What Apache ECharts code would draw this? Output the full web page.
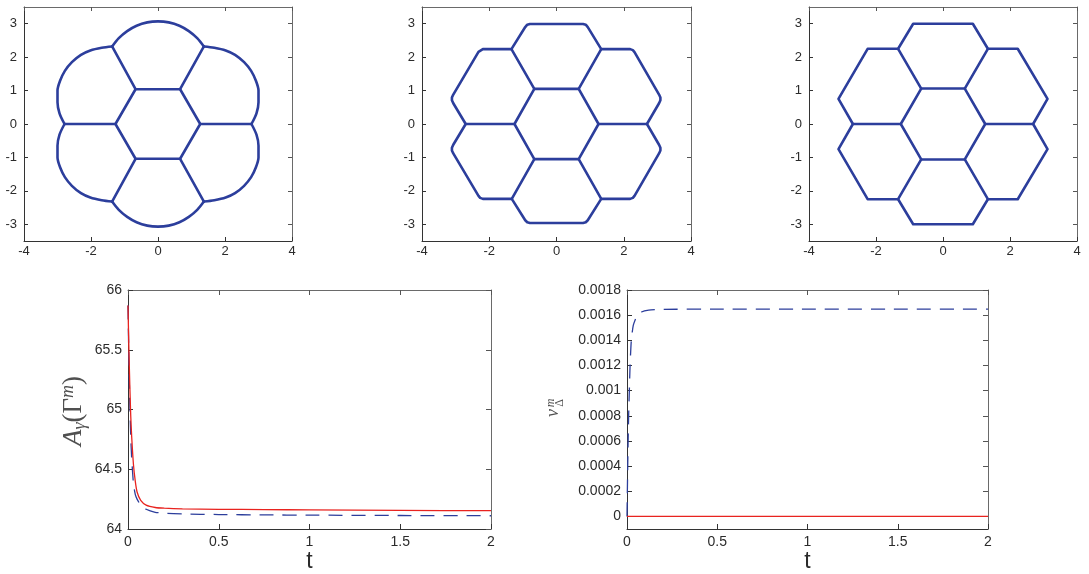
<!DOCTYPE html>
<html>
<head>
<meta charset="utf-8">
<script src="https://cdn.jsdelivr.net/npm/echarts@6/dist/echarts.min.js"></script>
<style>
  html, body { margin: 0; padding: 0; background: #fff; }
  #chart { width: 1089px; height: 574px; }
</style>
</head>
<body>
<div id="chart"></div>
<script>
// tick labels
const xTicksTop = [-4, -2, 0, 2, 4]
const yTicksTop = [-3, -2, -1, 0, 1, 2, 3]
const tTicks = [0, 0.5, 1, 1.5, 2]
const areaTicks = [64, 64.5, 65, 65.5, 66]
const vTicks = [0, 0.0002, 0.0004, 0.0006, 0.0008, 0.001, 0.0012, 0.0014, 0.0016, 0.0018]

// panel 1 : initial network (circular outer arcs)
const inner1 = [[0.66, 1.04], [1.26, 0], [0.66, -1.04], [-0.67, -1.04], [-1.27, 0], [-0.67, 1.04]]
const junc1 = [[1.37, 2.32], [2.79, 0], [1.37, -2.32], [-1.37, -2.32], [-2.79, 0], [-1.37, 2.32]]
const arcTop1 = [[-1.37, 2.32], [-1.17, 2.57], [-0.92, 2.78], [-0.64, 2.94], [-0.32, 3.04], [0, 3.07], [0.32, 3.04], [0.64, 2.94], [0.92, 2.78], [1.17, 2.57], [1.37, 2.32]]
const arcBottom1 = [[-1.37, -2.32], [-1.17, -2.57], [-0.92, -2.78], [-0.64, -2.94], [-0.32, -3.04], [0, -3.07], [0.32, -3.04], [0.64, -2.94], [0.92, -2.78], [1.17, -2.57], [1.37, -2.32]]
const arcUL1 = [[-1.37, 2.32], [-1.68, 2.28], [-2.02, 2.2], [-2.3, 2.07], [-2.57, 1.85], [-2.78, 1.59], [-2.92, 1.3], [-3.0, 1.0], [-3.0, 0.65], [-2.94, 0.32], [-2.79, 0]]
const arcLL1 = [[-1.37, -2.32], [-1.68, -2.28], [-2.02, -2.2], [-2.3, -2.07], [-2.57, -1.85], [-2.78, -1.59], [-2.92, -1.3], [-3.0, -1.0], [-3.0, -0.65], [-2.94, -0.32], [-2.79, 0]]
const arcUR1 = [[1.37, 2.32], [1.68, 2.28], [2.02, 2.2], [2.3, 2.07], [2.57, 1.85], [2.78, 1.59], [2.92, 1.3], [3.0, 1.0], [3.0, 0.65], [2.94, 0.32], [2.79, 0]]
const arcLR1 = [[1.37, -2.32], [1.68, -2.28], [2.02, -2.2], [2.3, -2.07], [2.57, -1.85], [2.78, -1.59], [2.92, -1.3], [3.0, -1.0], [3.0, -0.65], [2.94, -0.32], [2.79, 0]]

// panel 2 : intermediate network (rounded corners)
const inner2 = [[0.66, 1.05], [1.25, 0], [0.66, -1.05], [-0.66, -1.05], [-1.25, 0], [-0.66, 1.05]]
const junc2 = [[1.33, 2.24], [2.69, 0], [1.33, -2.24], [-1.33, -2.24], [-2.70, 0], [-1.34, 2.24]]
const outer2 = [
  [-1.34, 2.24], [-0.93, 2.9], [-0.87, 2.97], [-0.79, 2.99], [0.79, 2.99], [0.87, 2.97], [0.93, 2.9], [1.33, 2.24],
  [2.19, 2.24], [2.27, 2.21], [2.32, 2.15], [3.05, 0.88], [3.09, 0.79], [3.09, 0.71], [3.05, 0.62], [2.69, 0],
  [3.05, -0.62], [3.09, -0.71], [3.09, -0.79], [3.05, -0.88], [2.32, -2.15], [2.27, -2.21], [2.19, -2.24], [1.33, -2.24],
  [0.93, -2.88], [0.87, -2.94], [0.79, -2.96], [-0.79, -2.96], [-0.87, -2.94], [-0.93, -2.88], [-1.33, -2.24],
  [-2.19, -2.24], [-2.27, -2.21], [-2.32, -2.15], [-3.07, -0.88], [-3.11, -0.79], [-3.11, -0.71], [-3.07, -0.62], [-2.70, 0],
  [-3.07, 0.62], [-3.11, 0.71], [-3.11, 0.79], [-3.07, 0.88], [-2.32, 2.16], [-2.27, 2.21], [-2.19, 2.24], [-1.34, 2.24]
]

// panel 3 : final network (straight hexagons)
const inner3 = [[0.65, 1.06], [1.26, 0], [0.65, -1.06], [-0.65, -1.06], [-1.26, 0], [-0.65, 1.06]]
const junc3 = [[1.34, 2.25], [2.69, 0], [1.34, -2.25], [-1.34, -2.25], [-2.69, 0], [-1.34, 2.25]]
const outer3 = [
  [-1.34, 2.25], [-0.89, 3.0], [0.89, 3.0], [1.34, 2.25], [2.23, 2.25], [3.12, 0.75], [2.69, 0],
  [3.12, -0.75], [2.23, -2.25], [1.34, -2.25], [0.89, -3.0], [-0.89, -3.0], [-1.34, -2.25],
  [-2.25, -2.25], [-3.12, -0.75], [-2.69, 0], [-3.12, 0.75], [-2.25, 2.25], [-1.34, 2.25]
]

// panel 4 : A_gamma(Gamma^m) over t
const tA = [0, 0.005, 0.01, 0.015, 0.02, 0.03, 0.04, 0.05, 0.07, 0.1, 0.15, 0.2, 0.3, 0.5, 0.75, 1, 1.5, 2]
const areaRed = [65.87, 65.5, 65.2, 64.95, 64.78, 64.54, 64.4, 64.31, 64.24, 64.2, 64.18, 64.174, 64.169, 64.165, 64.162, 64.16, 64.156, 64.153]
const areaBlue = [65.87, 65.4, 65.05, 64.78, 64.6, 64.38, 64.29, 64.25, 64.2, 64.165, 64.14, 64.132, 64.126, 64.121, 64.118, 64.116, 64.113, 64.111]

// panel 5 : v_Delta^m over t
const tV = [0, 0.002, 0.005, 0.009, 0.013, 0.017, 0.024, 0.035, 0.054, 0.08, 0.12, 0.2, 0.5, 1, 1.5, 2]
const vBlue = [0, 0.0002, 0.0005, 0.0008, 0.001, 0.0012, 0.0014, 0.00152, 0.00159, 0.001625, 0.00164, 0.001646, 0.001648, 0.001648, 0.001648, 0.001648]
const vRed = [0, 0, 0, 0, 0, 0, 0, 0, 0, 0, 0, 0, 0, 0, 0, 0]

const BLUE = '#2c3e9c'
const RED = '#e8231f'
const FONT = '"Liberation Sans", Arial, Helvetica, sans-serif'
const SERIF = '"Liberation Serif", "DejaVu Serif", serif'

const grids = [
  {left: 24, top: 7, width: 268, height: 234},
  {left: 422, top: 7, width: 269, height: 234},
  {left: 809, top: 7, width: 268, height: 234},
  {left: 128, top: 290, width: 363, height: 239},
  {left: 627, top: 290, width: 361, height: 239}
]

function axisPair(dim, g, cfg) {
  // main axis (bottom / left) with labels and mirror axis (top / right) for the box
  const main = {
    type: 'value', gridIndex: g, min: cfg.min, max: cfg.max,
    position: dim === 'x' ? 'bottom' : 'left',
    axisLine: {show: true, onZero: false, lineStyle: {color: '#333', width: 1}},
    axisTick: {show: true, inside: true, length: cfg.tick, customValues: cfg.ticks, lineStyle: {color: '#333'}},
    axisLabel: {
      show: true, customValues: cfg.ticks, color: '#2b2b2b', fontSize: cfg.fontSize,
      fontFamily: FONT, margin: cfg.margin, formatter: cfg.formatter
    },
    splitLine: {show: false}
  }
  if (cfg.name) {
    main.name = cfg.name
    main.nameLocation = 'middle'
    main.nameGap = cfg.nameGap
    main.nameTextStyle = {fontSize: 23, fontFamily: FONT, color: '#2b2b2b'}
  }
  const mirror = {
    type: 'value', gridIndex: g, min: cfg.min, max: cfg.max,
    position: dim === 'x' ? 'top' : 'right',
    axisLine: {show: true, onZero: false, lineStyle: {color: '#6a6a6a', width: 1}},
    axisTick: {show: true, inside: true, length: cfg.tick, customValues: cfg.ticks, lineStyle: {color: '#555'}},
    axisLabel: {show: false},
    splitLine: {show: false}
  }
  return [main, mirror]
}

const xAxes = []
const yAxes = []
for (let g = 0; g < 3; g++) {
  xAxes.push(...axisPair('x', g, {min: -4, max: 4, ticks: xTicksTop, tick: 4, fontSize: 13, margin: 4}))
  yAxes.push(...axisPair('y', g, {min: -3.5, max: 3.5, ticks: yTicksTop, tick: 4, fontSize: 13, margin: 7}))
}
xAxes.push(...axisPair('x', 3, {min: 0, max: 2, ticks: tTicks, tick: 5, fontSize: 14, margin: 6, name: 't', nameGap: 19}))
yAxes.push(...axisPair('y', 3, {min: 64, max: 66, ticks: areaTicks, tick: 5, fontSize: 14, margin: 6}))
xAxes.push(...axisPair('x', 4, {min: 0, max: 2, ticks: tTicks, tick: 5, fontSize: 14, margin: 6, name: 't', nameGap: 19}))
yAxes.push(...axisPair('y', 4, {
  min: -0.0001, max: 0.0018, ticks: vTicks, tick: 5, fontSize: 14, margin: 6,
  formatter: v => String(Math.round(v * 1e4) / 1e4)
}))

function path(points, g, smooth) {
  return {
    type: 'line', xAxisIndex: 2 * g, yAxisIndex: 2 * g,
    data: points, symbol: 'none', smooth: smooth ? 0.3 : false,
    lineStyle: {color: BLUE, width: 2.6, cap: 'round', join: 'round'},
    silent: true
  }
}

function network(g, inner, junc, outerPaths, smooth) {
  const list = []
  list.push(path(inner.concat([inner[0]]), g, false))
  for (let i = 0; i < inner.length; i++) {
    list.push(path([inner[i], junc[i]], g, false))
  }
  for (const p of outerPaths) list.push(path(p, g, smooth))
  return list
}

function zip(xs, ys) {
  return xs.map((x, i) => [x, ys[i]])
}

const series = [
  ...network(0, inner1, junc1, [arcTop1, arcBottom1, arcUL1, arcLL1, arcUR1, arcLR1], true),
  ...network(1, inner2, junc2, [outer2], false),
  ...network(2, inner3, junc3, [outer3], false),
  {
    type: 'line', xAxisIndex: 6, yAxisIndex: 6, data: zip(tA, areaBlue), symbol: 'none', smooth: 0.2,
    lineStyle: {color: BLUE, width: 1.3, type: [14, 9]}
  },
  {
    type: 'line', xAxisIndex: 6, yAxisIndex: 6, data: zip(tA, areaRed), symbol: 'none', smooth: 0.2,
    lineStyle: {color: RED, width: 1.3}
  },
  {
    type: 'line', xAxisIndex: 8, yAxisIndex: 8, data: zip(tV, vBlue), symbol: 'none', smooth: 0.2,
    lineStyle: {color: BLUE, width: 1.3, type: [14, 9]}
  },
  {
    type: 'line', xAxisIndex: 8, yAxisIndex: 8, data: zip(tV, vRed), symbol: 'none',
    lineStyle: {color: RED, width: 1.3}
  }
]

const LABEL = '#505050'
const graphic = [
  {
    type: 'text', x: 74, y: 411, rotation: Math.PI / 2,
    style: {
      text: '{a|A}{s|γ}{p|(}{g|Γ}{m|m}{p|)}',
      align: 'center', verticalAlign: 'middle',
      rich: {
        a: {fontFamily: SERIF, fontStyle: 'italic', fontSize: 27, fill: LABEL, color: LABEL},
        s: {fontFamily: SERIF, fontStyle: 'italic', fontSize: 18, padding: [12, 0, 0, 0], fill: LABEL, color: LABEL},
        p: {fontFamily: SERIF, fontSize: 27, fill: LABEL, color: LABEL},
        g: {fontFamily: SERIF, fontSize: 27, fill: LABEL, color: LABEL},
        m: {fontFamily: SERIF, fontStyle: 'italic', fontSize: 18, padding: [0, 0, 12, 0], fill: LABEL, color: LABEL}
      }
    }
  },
  {
    type: 'group', x: 553.5, y: 413, rotation: Math.PI / 2,
    children: [
      {type: 'text', x: 0, y: 0, style: {text: 'v', fontFamily: SERIF, fontStyle: 'italic', fontSize: 18, fill: LABEL, align: 'center', verticalAlign: 'middle'}},
      {type: 'text', x: 10, y: -3, style: {text: 'm', fontFamily: SERIF, fontStyle: 'italic', fontSize: 12, fill: LABEL, align: 'center', verticalAlign: 'middle'}},
      {type: 'text', x: 10, y: 6, style: {text: 'Δ', fontFamily: SERIF, fontSize: 12, fill: LABEL, align: 'center', verticalAlign: 'middle'}}
    ]
  }
]

const chart = echarts.init(document.getElementById('chart'), null, {renderer: 'canvas'})
chart.setOption({
  backgroundColor: '#fff',
  animation: false,
  grid: grids,
  xAxis: xAxes,
  yAxis: yAxes,
  series: series,
  graphic: graphic
})
</script>
</body>
</html>
